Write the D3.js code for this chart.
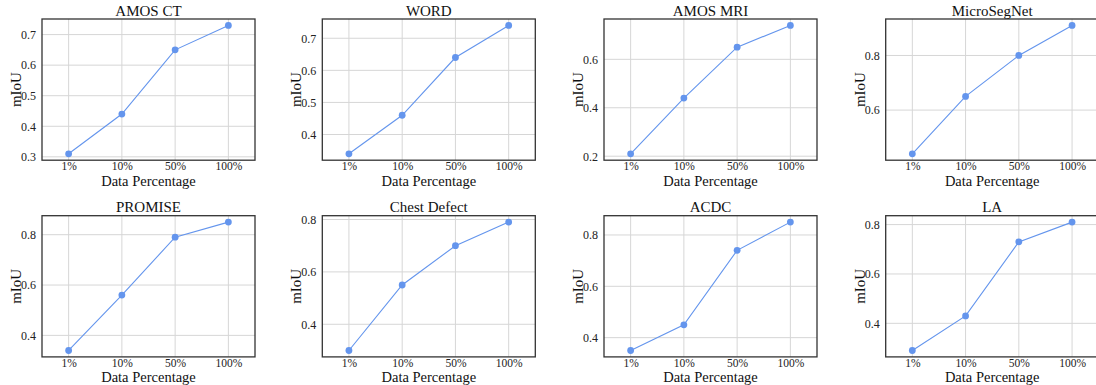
<!DOCTYPE html>
<html lang="en">
<head>
<meta charset="utf-8">
<style>
  body { margin: 0; background: #fff; }
  svg { display: block; }
  svg text { font-family: "Liberation Serif", "Times New Roman", serif; }
  .grid line { stroke: #d6d6d6; stroke-width: 1; }
</style>
</head>
<body>
<svg width="1096" height="385"></svg>
<script src="https://d3js.org/d3.v7.min.js"></script>
<script>
// data
var categories = ["1%", "10%", "50%", "100%"];
var titles = ["AMOS CT", "WORD", "AMOS MRI", "MicroSegNet", "PROMISE", "Chest Defect", "ACDC", "LA"];
var amosCT     = [0.31, 0.44, 0.65, 0.73];
var word       = [0.34, 0.46, 0.64, 0.74];
var amosMRI    = [0.21, 0.44, 0.65, 0.74];
var microSeg   = [0.44, 0.65, 0.80, 0.91];
var promise    = [0.34, 0.56, 0.79, 0.85];
var chest      = [0.30, 0.55, 0.70, 0.79];
var acdc       = [0.35, 0.45, 0.74, 0.85];
var la         = [0.29, 0.43, 0.73, 0.81];
var seriesList = [amosCT, word, amosMRI, microSeg, promise, chest, acdc, la];
var yTicks = [
  [0.3, 0.4, 0.5, 0.6, 0.7],
  [0.4, 0.5, 0.6, 0.7],
  [0.2, 0.4, 0.6],
  [0.6, 0.8],
  [0.4, 0.6, 0.8],
  [0.4, 0.6, 0.8],
  [0.4, 0.6, 0.8],
  [0.4, 0.6, 0.8]
];

var svg = d3.select("svg");
var colLeft = [42, 322.3, 604, 885.7];
var rowTop = [19, 215.7];
var pw = 213, ph = 141.2;
var lineColor = "#6495ed";
var serif = "'Liberation Serif', 'Times New Roman', serif";

seriesList.forEach(function(vals, i) {
  var col = i % 4, row = Math.floor(i / 4);
  var g = svg.append("g")
    .attr("transform", "translate(" + colLeft[col] + "," + rowTop[row] + ")");

  var x = d3.scalePoint().domain(categories).range([0, pw]).padding(0.5);
  var lo = d3.min(vals), hi = d3.max(vals), pad = (hi - lo) * 0.05;
  var y = d3.scaleLinear().domain([lo - pad, hi + pad]).range([ph, 0]);

  // grid
  var grid = g.append("g").attr("class", "grid");
  grid.selectAll(".vx").data(categories).enter().append("line")
    .attr("x1", function(d) { return x(d); }).attr("x2", function(d) { return x(d); })
    .attr("y1", 0).attr("y2", ph);
  grid.selectAll(".hy").data(yTicks[i]).enter().append("line")
    .attr("x1", 0).attr("x2", pw)
    .attr("y1", function(d) { return y(d); }).attr("y2", function(d) { return y(d); });

  // axes (labels only, no tick marks)
  var ax = g.append("g").attr("transform", "translate(0," + ph + ")")
    .call(d3.axisBottom(x).tickSize(0).tickPadding(0))
    .attr("font-family", serif).attr("font-size", 11.5);
  ax.select(".domain").remove();
  ax.selectAll("text").attr("fill", "#222").attr("dy", null).attr("y", 10);

  var ay = g.append("g")
    .call(d3.axisLeft(y).tickValues(yTicks[i]).tickFormat(d3.format(".1f")).tickSize(0).tickPadding(6))
    .attr("font-family", serif).attr("font-size", 12);
  ay.select(".domain").remove();
  ay.selectAll("text").attr("fill", "#222");

  // line + markers
  var line = d3.line().x(function(d, k) { return x(categories[k]); }).y(function(d) { return y(d); });
  g.append("path").datum(vals)
    .attr("d", line).attr("fill", "none").attr("stroke", lineColor).attr("stroke-width", 1.1);
  g.selectAll("circle").data(vals).enter().append("circle")
    .attr("cx", function(d, k) { return x(categories[k]); })
    .attr("cy", function(d) { return y(d); })
    .attr("r", 3.4).attr("fill", lineColor);

  // frame
  g.append("rect").attr("width", pw).attr("height", ph)
    .attr("fill", "none").attr("stroke", "#333").attr("stroke-width", 1.3);

  // title and labels
  g.append("text").attr("x", pw / 2).attr("y", -3.4)
    .attr("text-anchor", "middle").attr("font-size", 15).attr("fill", "#111")
    .text(titles[i]);
  g.append("text").attr("x", pw / 2).attr("y", ph + 25.5)
    .attr("text-anchor", "middle").attr("font-size", 14.5).attr("fill", "#111")
    .text("Data Percentage");
  g.append("text")
    .attr("transform", "translate(-21," + (ph / 2) + ") rotate(-90)")
    .attr("text-anchor", "middle").attr("font-size", 15).attr("fill", "#111")
    .text("mIoU");
});
</script>
</body>
</html>
